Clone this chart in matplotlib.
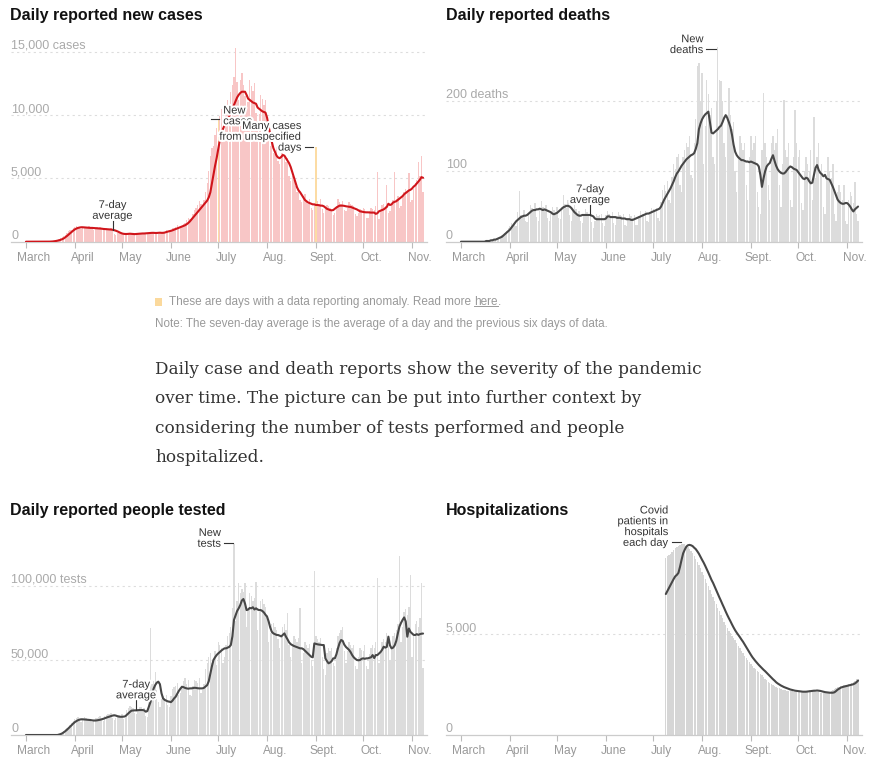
import matplotlib
matplotlib.use("Agg")
import matplotlib.pyplot as plt
import matplotlib.patheffects as pe
from matplotlib.patches import Rectangle
import numpy as np

plt.rcParams['font.family'] = ['Liberation Sans', 'DejaVu Sans']

W, H = 886, 768
DARK = '#333333'

# day 0 = March 1, last day = Nov. 8
months = ['March', 'April', 'May', 'June', 'July', 'Aug.', 'Sept.', 'Oct.', 'Nov.']
month_start = [0, 31, 61, 92, 122, 153, 184, 214, 245]

# ---------------- cases (one row per week)
cases_daily = [
    0, 0, 0, 0, 0, 0, 0,
    0, 0, 0, 0, 0, 1, 3,
    8, 12, 25, 40, 70, 110, 160,
    230, 300, 380, 470, 560, 690, 820,
    900, 950, 1100, 1180, 1250, 1180, 1100,
    1000, 1050, 1200, 1150, 1180, 1250, 1100,
    980, 950, 1120, 1150, 1100, 1180, 1000,
    900, 930, 1050, 1020, 990, 1080, 900,
    600, 560, 700, 650, 600, 690, 560,
    520, 580, 650, 680, 640, 700, 570,
    540, 600, 680, 700, 660, 720, 610,
    580, 620, 760, 720, 700, 780, 640,
    600, 650, 780, 760, 800, 900, 840,
    780, 880, 1050, 1100, 1150, 1300, 1150,
    1100, 1250, 1400, 1500, 1700, 1900, 1800,
    1900, 2200, 2500, 2700, 2900, 3200, 3000,
    2800, 3300, 3900, 4600, 5600, 6800, 7400,
    7600, 8400, 9000, 9700, 9900, 10500, 8200,
    8500, 10200, 11200, 10600, 11800, 12400, 13000,
    15300, 12600, 11200, 12800, 13300, 12400, 11500,
    10400, 11000, 12800, 12300, 11900, 12500, 10200,
    9500, 10100, 11600, 11300, 10800, 11200, 9400,
    8200, 7600, 7900, 7000, 6900, 7500, 6400,
    6100, 7400, 7900, 6800, 6300, 6600, 5200,
    4800, 5200, 4900, 4400, 3900, 4100, 3300,
    3100, 3600, 3800, 3300, 3000, 3400, 2700,
    2500, 2900, 7500, 3200, 3000, 3400, 2600,
    2300, 2600, 2900, 2800, 2700, 2400, 2100,
    2300, 2800, 3400, 3100, 3000, 3200, 2500,
    2400, 2700, 3100, 3000, 2900, 2800, 2200,
    2000, 2300, 2600, 2500, 2700, 2600, 1900,
    1900, 2400, 2700, 2600, 2500, 2800, 5500,
    1800, 2500, 2900, 3000, 2800, 4500, 2300,
    2400, 2900, 3300, 5500, 3400, 3600, 2700,
    2800, 3500, 3900, 4200, 4000, 5400, 3100,
    3300, 4200, 4600, 4900, 6300, 5200, 6800,
    3900,
]
cases_avg = [
    0, 0, 0, 0, 0, 0, 0,
    0, 0, 0, 0, 0, 0, 0,
    0, 5, 10, 20, 35, 55, 80,
    110, 150, 200, 260, 350, 450, 560,
    670, 780, 880, 970, 1040, 1090, 1120,
    1140, 1140, 1130, 1120, 1110, 1100, 1090,
    1090, 1080, 1070, 1060, 1050, 1040, 1030,
    1010, 1000, 990, 980, 970, 960, 940,
    910, 870, 820, 760, 700, 650, 620,
    610, 610, 620, 630, 620, 610, 600,
    610, 620, 630, 640, 650, 650, 660,
    670, 680, 690, 700, 700, 690, 690,
    700, 710, 700, 700, 720, 760, 800,
    830, 860, 900, 950, 1000, 1050, 1100,
    1150, 1200, 1250, 1300, 1380, 1480, 1600,
    1750, 1900, 2050, 2200, 2350, 2500, 2650,
    2800, 2950, 3100, 3250, 3500, 3900, 4600,
    5300, 6000, 6600, 7300, 8000, 8500, 8900,
    9200, 9500, 9700, 9900, 10200, 10500, 10800,
    11100, 11400, 11600, 11750, 11850, 11850, 11850,
    11600, 11300, 11200, 11100, 11000, 10950, 10900,
    10600, 10500, 10400, 10300, 10250, 10200, 9800,
    9100, 8500, 7900, 7400, 7100, 6800, 6650,
    6600, 6700, 6850, 6800, 6600, 6400, 6200,
    5900, 5500, 5100, 4700, 4300, 4050, 3900,
    3700, 3500, 3300, 3200, 3100, 3050, 3000,
    2950, 2950, 2900, 2900, 2880, 2850, 2850,
    2800, 2700, 2600, 2550, 2500, 2480, 2500,
    2600, 2700, 2780, 2850, 2850, 2850, 2830,
    2800, 2780, 2760, 2750, 2700, 2650, 2600,
    2550, 2470, 2400, 2380, 2350, 2330, 2320,
    2320, 2310, 2300, 2300, 2300, 2200, 2250,
    2400, 2450, 2500, 2550, 2650, 2750, 3000,
    2900, 2950, 3100, 3150, 3200, 3300, 3400,
    3500, 3600, 3750, 3850, 3950, 4050, 4100,
    4200, 4350, 4450, 4600, 4750, 4900, 5100,
    5050,
]
cases_anomaly = [122, 184]

# ---------------- deaths
deaths_daily = [
    0, 0, 0, 0, 0, 0, 0,
    0, 0, 0, 0, 0, 0, 0,
    0, 0, 1, 0, 1, 2, 3,
    2, 4, 5, 4, 7, 9, 10,
    12, 15, 19, 22, 26, 24, 28,
    22, 42, 72, 38, 35, 45, 30,
    28, 40, 52, 48, 44, 55, 35,
    30, 48, 58, 50, 46, 52, 33,
    29, 44, 49, 45, 42, 50, 34,
    32, 50, 66, 54, 48, 60, 38,
    30, 44, 52, 46, 40, 44, 30,
    26, 38, 46, 42, 38, 44, 28,
    20, 30, 40, 36, 38, 40, 26,
    22, 38, 44, 40, 36, 42, 26,
    24, 36, 42, 38, 36, 40, 24,
    22, 34, 40, 36, 34, 38, 24,
    24, 36, 44, 40, 38, 44, 30,
    28, 42, 48, 46, 44, 48, 34,
    30, 56, 74, 80, 72, 86, 60,
    55, 92, 110, 104, 120, 125, 80,
    70, 120, 130, 140, 135, 150, 95,
    90, 140, 175, 250, 254, 200, 240,
    110, 165, 230, 210, 180, 190, 120,
    110, 200, 277, 230, 228, 200, 140,
    120, 180, 219, 180, 160, 170, 100,
    70, 120, 150, 140, 130, 140, 80,
    60, 120, 150, 130, 140, 150, 70,
    50, 40, 130, 211, 140, 120, 80,
    60, 140, 150, 130, 140, 160, 80,
    50, 110, 201, 130, 120, 140, 60,
    50, 120, 187, 140, 120, 130, 55,
    45, 100, 120, 110, 100, 130, 60,
    178, 90, 120, 140, 100, 110, 50,
    40, 90, 120, 100, 90, 110, 40,
    30, 70, 80, 70, 60, 80, 30,
    25, 60, 70, 65, 55, 85, 40,
    30,
]
deaths_avg = [
    0, 0, 0, 0, 0, 0, 0,
    0, 0, 0, 0, 0, 0, 0,
    0, 0, 1, 1, 1, 2, 2,
    3, 3, 4, 5, 6, 7, 9,
    11, 13, 15, 17, 20, 23, 26,
    29, 31, 33, 35, 36, 37, 37,
    38, 40, 42, 44, 45, 45, 46,
    46, 47, 46, 45, 46, 45, 44,
    43, 42, 40, 39, 40, 41, 43,
    45, 47, 49, 50, 51, 51, 50,
    48, 45, 42, 40, 38, 37, 37,
    38, 38, 38, 38, 38, 38, 37,
    36, 33, 32, 32, 32, 32, 32,
    32, 33, 36, 36, 35, 35, 35,
    35, 34, 34, 34, 33, 33, 33,
    32, 32, 32, 31, 31, 32, 33,
    34, 35, 36, 37, 38, 39, 40,
    40, 41, 42, 43, 44, 45, 46,
    47, 50, 55, 60, 64, 68, 72,
    76, 81, 86, 92, 97, 100, 104,
    108, 111, 114, 117, 119, 121, 123,
    124, 126, 132, 140, 160, 168, 174,
    178, 181, 183, 185, 170, 155, 154,
    156, 158, 160, 163, 165, 170, 176,
    180, 176, 170, 163, 152, 138, 128,
    123, 120, 118, 116, 116, 115, 114,
    114, 113, 114, 113, 112, 111, 110,
    107, 95, 78, 90, 100, 107, 110,
    112, 118, 123, 115, 108, 103, 100,
    98, 97, 97, 99, 102, 105, 107,
    106, 104, 103, 102, 99, 96, 93,
    90, 89, 91, 90, 86, 83, 84,
    95, 105, 109, 102, 98, 96, 93,
    95, 90, 89, 88, 83, 78, 72,
    66, 60, 57, 55, 54, 54, 55,
    55, 53, 50, 46, 43, 46, 48,
    50,
]

# ---------------- people tested
tests_daily = [
    0, 0, 0, 0, 0, 0, 0,
    0, 0, 0, 0, 0, 0, 0,
    0, 0, 0, 0, 100, 200, 400,
    600, 1200, 2000, 3000, 3800, 5000, 5600,
    6500, 8000, 9600, 11000, 11500, 12000, 10800,
    9000, 10500, 12000, 11500, 10800, 11000, 9200,
    8500, 10200, 11500, 11200, 11800, 12500, 10500,
    9500, 12500, 13600, 13800, 14200, 14600, 11500,
    10000, 11500, 12800, 13500, 13000, 14000, 11000,
    11500, 17000, 18000, 19500, 18500, 17800, 14500,
    13800, 17500, 19000, 18600, 17500, 18000, 13000,
    12000, 30000, 71400, 34000, 36000, 42000, 30000,
    22000, 19000, 24000, 26000, 25000, 27000, 20000,
    19000, 26000, 31000, 32000, 33000, 35000, 27000,
    28000, 33000, 36000, 38000, 34000, 37000, 27000,
    26000, 33000, 37000, 36000, 35000, 38000, 28000,
    30000, 34000, 44000, 48000, 52000, 55000, 48000,
    50000, 56000, 46800, 62000, 60000, 58000, 48000,
    52000, 60000, 66000, 68000, 72000, 85000, 128000,
    76000, 90000, 102000, 95000, 98000, 96000, 101700,
    72000, 84000, 95000, 93000, 90000, 92000, 102600,
    70000, 82000, 90000, 91000, 88000, 86000, 80000,
    62000, 68000, 74000, 75000, 72000, 70000, 64000,
    58000, 66000, 72000, 74000, 70000, 81600, 60000,
    52000, 60000, 66000, 64000, 62000, 65000, 85000,
    48000, 55000, 62000, 60000, 58000, 61000, 50000,
    46000, 110000, 66000, 64000, 62000, 65000, 52000,
    44000, 40000, 55000, 58000, 56000, 58000, 48000,
    46000, 58000, 66000, 68000, 70000, 72000, 56000,
    48000, 56000, 62000, 60000, 58000, 60000, 46000,
    44000, 52000, 58000, 57000, 56000, 60000, 46000,
    44000, 54000, 58000, 60000, 58000, 62000, 105000,
    48000, 56000, 62000, 64000, 62000, 68000, 60000,
    50000, 58000, 66000, 68000, 70000, 74000, 120000,
    62000, 72000, 82000, 84000, 80000, 86000, 107000,
    52000, 66000, 74000, 76000, 72000, 78000, 101700,
    44800,
]
tests_avg = [
    0, 0, 0, 0, 0, 0, 0,
    0, 0, 0, 0, 0, 0, 0,
    0, 0, 0, 0, 0, 0, 0,
    300, 600, 1100, 1800, 2600, 3500, 4500,
    5500, 6600, 7700, 8600, 9300, 9900, 10300,
    10500, 10500, 10400, 10300, 10200, 10100, 10000,
    9800, 9700, 9700, 9800, 10000, 10200, 10500,
    10800, 11200, 11600, 12000, 12300, 12700, 13000,
    13200, 13000, 12600, 12300, 12200, 12200, 12300,
    12500, 13500, 14500, 15500, 16300, 16400, 16500,
    16500, 16600, 16700, 16700, 16700, 16500, 15600,
    16000, 19000, 22000, 27000, 31000, 33400, 35000,
    35700, 34000, 28000, 24500, 23500, 23000, 22500,
    22300, 22000, 23000, 24500, 25600, 27500, 29500,
    31000, 32300, 32000, 31500, 31200, 31000, 31200,
    31200, 31400, 31600, 31500, 31300, 31200, 31200,
    31200, 31600, 32500, 33400, 36000, 41000, 46000,
    50200, 52000, 53500, 54600, 55500, 56500, 57300,
    58000, 58000, 58500, 59000, 60200, 66000, 77000,
    80000, 83000, 84800, 87000, 90000, 91000, 88000,
    83600, 84000, 85000, 84800, 85500, 84000, 84800,
    84000, 83600, 83600, 83000, 82000, 80500, 79200,
    76000, 72000, 69100, 68000, 67500, 67000, 66900,
    66500, 66000, 67000, 68000, 65800, 64000, 62000,
    60800, 60200, 59600, 59200, 58800, 58400, 58000,
    58000, 57500, 56500, 55500, 54500, 53500, 52400,
    52000, 61300, 61000, 60700, 60500, 60400, 60200,
    60200, 51300, 49500, 48000, 48500, 49500, 51300,
    51300, 54000, 58000, 61500, 63600, 63000, 60500,
    59000, 58000, 57000, 55500, 53500, 52000, 51000,
    50200, 50000, 50200, 51000, 51300, 51000, 51300,
    51300, 51700, 52000, 53500, 51500, 53500, 53500,
    54500, 55500, 57000, 59100, 58500, 59000, 65800,
    60000, 58000, 58500, 60000, 63000, 68000, 72500,
    75000, 77000, 78700, 76000, 65800, 71300, 69000,
    68000, 67000, 66900, 67500, 67000, 67500, 67800,
    67900,
]

# ---------------- hospitalizations (data begins July 9 = day 130)
hosp_start = 130
hosp_daily = [
    8800, 8900, 8950, 9000, 9100, 9200, 9300,
    9350, 9400, 9450, 9500, 9500, 9480, 9420,
    9350, 9250, 9150, 9020, 8900, 8750, 8600,
    8450, 8280, 8100, 7930, 7750, 7560, 7380,
    7200, 7020, 6850, 6670, 6490, 6310, 6140,
    5960, 5790, 5630, 5480, 5330, 5180, 5060,
    4940, 4820, 4700, 4570, 4440, 4310, 4180,
    4050, 3930, 3810, 3700, 3600, 3510, 3430,
    3350, 3270, 3200, 3120, 3040, 2960, 2880,
    2800, 2720, 2650, 2580, 2520, 2470, 2420,
    2380, 2340, 2310, 2280, 2250, 2230, 2210,
    2190, 2180, 2170, 2160, 2150, 2150, 2150,
    2150, 2160, 2170, 2180, 2190, 2200, 2200,
    2210, 2200, 2190, 2170, 2150, 2130, 2120,
    2110, 2100, 2100, 2100, 2090, 2100, 2130,
    2190, 2250, 2300, 2350, 2380, 2400, 2420,
    2440, 2460, 2480, 2500, 2520, 2540, 2570,
    2620, 2690, 2760, 2800,
]
hosp_avg = [
    7000, 7150, 7300, 7450, 7600, 7750, 7880,
    7950, 8050, 8350, 8700, 9020, 9200, 9350,
    9420, 9440, 9420, 9380, 9300, 9230, 9120,
    9000, 8850, 8700, 8560, 8400, 8230, 8060,
    7880, 7700, 7550, 7370, 7190, 7010, 6830,
    6660, 6480, 6310, 6130, 5960, 5800, 5650,
    5490, 5340, 5200, 5080, 4970, 4860, 4740,
    4630, 4500, 4370, 4240, 4110, 3980, 3860,
    3760, 3660, 3570, 3480, 3400, 3320, 3240,
    3170, 3090, 3010, 2930, 2850, 2770, 2700,
    2620, 2560, 2510, 2460, 2420, 2380, 2350,
    2320, 2290, 2260, 2240, 2220, 2200, 2190,
    2180, 2170, 2160, 2150, 2150, 2150, 2160,
    2170, 2180, 2190, 2200, 2200, 2210, 2200,
    2190, 2170, 2150, 2130, 2120, 2110, 2100,
    2100, 2100, 2120, 2180, 2250, 2300, 2350,
    2380, 2400, 2420, 2440, 2460, 2480, 2500,
    2520, 2560, 2620, 2700,
]

fig = plt.figure(figsize=(W / 100, H / 100), dpi=100)
XLIM = (-9.5, 254.5)
halo = [pe.withStroke(linewidth=3, foreground='white')]


def make_axes(left, top, bottom, ymax, grid):
    ax = fig.add_axes([left / W, 1 - bottom / H, 416 / W, (bottom - top) / H])
    ax.set_xlim(*XLIM)
    ax.set_ylim(0, ymax)
    for s in ('top', 'right', 'left'):
        ax.spines[s].set_visible(False)
    ax.spines['bottom'].set_color('#cccccc')
    ax.spines['bottom'].set_linewidth(0.9)
    ax.set_yticks([])
    ax.set_xticks(month_start)
    ax.tick_params(axis='x', length=4, width=0.8, color='#bbbbbb', labelbottom=False)
    for d, m in zip(month_start, months):
        ax.annotate(m, (d + 5, 0), xytext=(0, -16), textcoords='offset pixels',
                    ha='center', va='center', color='#999999', fontsize=8.6,
                    annotation_clip=False)
    for v, lab in grid:
        if v > 0:
            ax.axhline(v, color='#dddddd', lw=0.8, ls=(0, (2, 3)), zorder=0.5)
        ax.annotate(lab, (XLIM[0], v), xytext=(0, 3), textcoords='offset pixels',
                    ha='left', va='baseline', color='#aaaaaa', fontsize=9,
                    annotation_clip=False)
    return ax


def draw(ax, start, daily, avg, bar_color, line_color, anomaly=()):
    x = np.arange(start, start + len(daily))
    colors = ['#fcdca4' if d in anomaly else bar_color for d in x]
    ax.bar(x, daily, width=0.86, color=colors, linewidth=0, zorder=2)
    ax.plot(np.arange(start, start + len(avg)), avg, color=line_color, lw=1.5,
            zorder=3, solid_joinstyle='round', solid_capstyle='round')


def seg(ax, x, y, dx0, dy0, dx1, dy1):
    p = ax.transData.transform((x, y))
    pts = ax.transData.inverted().transform([p + (dx0, dy0), p + (dx1, dy1)])
    ax.plot(pts[:, 0], pts[:, 1], color=DARK, lw=0.8, zorder=5, clip_on=False)


def note(ax, x, y, text, dx, dy, ha, va='center'):
    ax.annotate(text, (x, y), xytext=(dx, dy), textcoords='offset pixels', ha=ha, va=va,
                fontsize=8, color=DARK, linespacing=1.1, path_effects=halo, zorder=6,
                annotation_clip=False)


def avg_label(ax, day, avg, length):
    y = avg[day]
    seg(ax, day, y, 0, 0, 0, length)
    note(ax, day, y, '7-day\naverage', 0, length, 'center', 'bottom')


# ---- cases
ax1 = make_axes(11, 39.2, 241.7, 16000,
                [(0, '0'), (5000, '5,000'), (10000, '10,000'), (15000, '15,000 cases')])
draw(ax1, 0, cases_daily, cases_avg, '#f8c6c6', '#d0151b', cases_anomaly)
avg_label(ax1, 55, cases_avg, 9)
a = cases_anomaly[0]
seg(ax1, a, cases_daily[a], -7, 0, 0.5, 0)
note(ax1, a, cases_daily[a], 'New\ncases', 5, 3, 'left')
b = cases_anomaly[1]
seg(ax1, b, cases_daily[b], -11, 0, -3, 0)
note(ax1, b, cases_daily[b], 'Many cases\nfrom unspecified\ndays', -14.3, 10, 'right')

# ---- deaths
ax2 = make_axes(446, 39.2, 241.7, 288, [(0, '0'), (100, '100'), (200, '200 deaths')])
draw(ax2, 0, deaths_daily, deaths_avg, '#dcdcdc', '#474747')
avg_label(ax2, 82, deaths_avg, 10)
m = int(np.argmax(deaths_daily))
seg(ax2, m, deaths_daily[m], -12, -2, -1.5, -2)
note(ax2, m, deaths_daily[m], 'New\ndeaths', -14.3, 2.3, 'right')

# ---- tests
ax3 = make_axes(11, 533, 735, 135200, [(0, '0'), (50000, '50,000'), (100000, '100,000 tests')])
draw(ax3, 0, tests_daily, tests_avg, '#dcdcdc', '#474747')
avg_label(ax3, 70, tests_avg, 10)
m = int(np.argmax(tests_daily))
seg(ax3, m, tests_daily[m], -9.7, 1, -0.7, 1)
note(ax3, m, tests_daily[m], 'New\ntests', -13, 5.4, 'right')

# ---- hospitalizations
ax4 = make_axes(446, 533, 735, 10030, [(0, '0'), (5000, '5,000')])
draw(ax4, hosp_start, hosp_daily, hosp_avg, '#d6d6d6', '#474747')
m = int(np.argmax(hosp_daily))
seg(ax4, hosp_start + m, hosp_daily[m], -9.7, 1.4, -0.3, 1.4)
note(ax4, hosp_start + m, hosp_daily[m], 'Covid\npatients in\nhospitals\neach day', -13, 17, 'right')

# ---- titles
for x, y, t in [(10, 20, 'Daily reported new cases'), (446, 20, 'Daily reported deaths'),
                (10, 515, 'Daily reported people tested'), (446, 515, 'Hospitalizations')]:
    fig.text(x / W, 1 - y / H, t, fontsize=11.5, fontweight='bold', color='#121212',
             va='baseline')

# ---- notes between the rows
FS = 8.45
fig.patches.append(Rectangle((155 / W, 1 - 306 / H), 7 / W, 8 / H,
                             transform=fig.transFigure, color='#fbd99c', lw=0))
ny = 1 - 302 / H
t1 = fig.text(169 / W, ny, 'These are days with a data reporting anomaly. Read more',
              va='center', fontsize=FS, color='#999999')
fig.canvas.draw()
r = fig.canvas.get_renderer()
bb = t1.get_window_extent(r)
t2 = fig.text((bb.x1 + 3) / W, ny, 'here', va='center', fontsize=FS, color='#999999')
bb2 = t2.get_window_extent(r)
fig.add_artist(plt.Line2D([bb2.x0 / W, bb2.x1 / W], [(bb2.y0 + 2.5) / H] * 2,
                          transform=fig.transFigure, color='#999999', lw=0.7))
fig.text(bb2.x1 / W, ny, '.', va='center', fontsize=FS, color='#999999')
fig.text(155 / W, 1 - 324 / H,
         'Note: The seven-day average is the average of a day and the previous six days of data.',
         va='center', fontsize=8.35, color='#999999')

para = ['Daily case and death reports show the severity of the pandemic',
        'over time. The picture can be put into further context by',
        'considering the number of tests performed and people',
        'hospitalized.']
for i, line in enumerate(para):
    fig.text(155 / W, 1 - (374 + 29.3 * i) / H, line, family=['DejaVu Serif'],
             fontsize=12.2, color='#333333', va='baseline')

fig.savefig('out.png', dpi=100)
